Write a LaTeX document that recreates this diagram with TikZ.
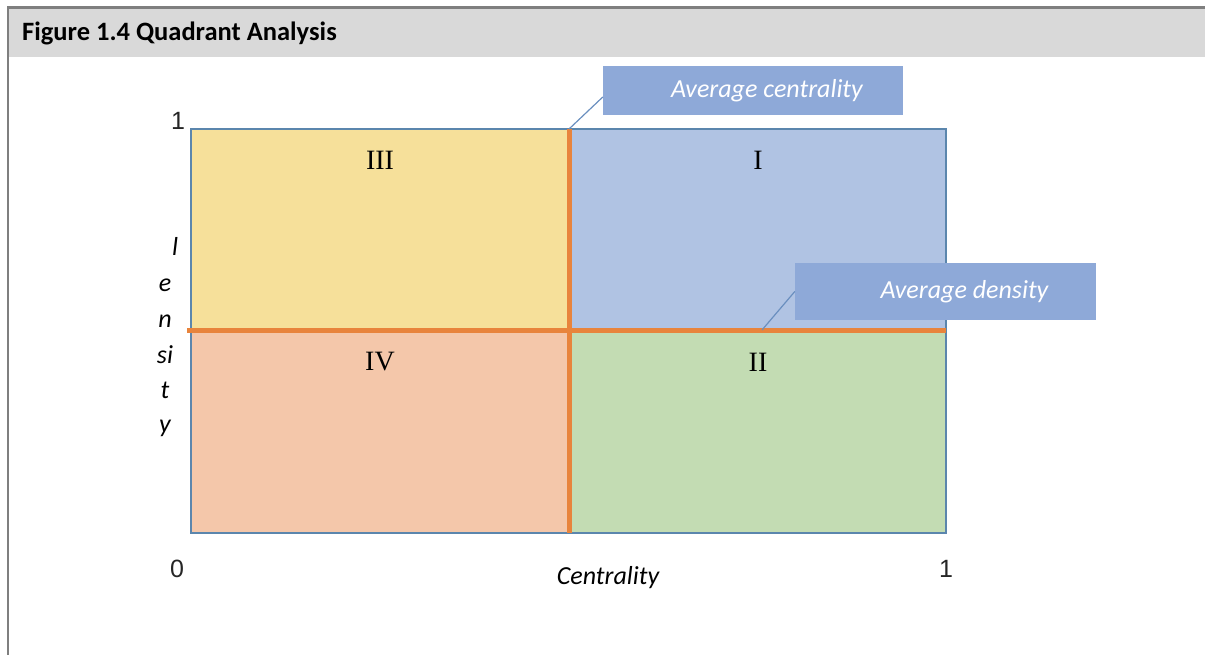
\documentclass[tikz,border=0pt]{standalone}
\usepackage{fontspec}
\setmainfont{Carlito}
\newfontfamily\romanfont{Liberation Serif}
\newfontfamily\digitfont{Liberation Sans}
\usetikzlibrary{calc}
\definecolor{headgray}{HTML}{D9D9D9}
\definecolor{framegray}{HTML}{7F7F7F}
\definecolor{qyellow}{HTML}{F6E09A}
\definecolor{qblue}{HTML}{B0C3E3}
\definecolor{qsalmon}{HTML}{F4C7AA}
\definecolor{qgreen}{HTML}{C3DCB3}
\definecolor{plotedge}{HTML}{5B86AD}
\definecolor{divorange}{HTML}{E8843C}
\definecolor{callfill}{HTML}{8EA9D8}
\definecolor{leader}{HTML}{6A8FBF}
\tikzset{
  quadlabel/.style={font=\romanfont\fontsize{28}{32}\selectfont, inner sep=0pt},
  calloutbox/.style={fill=callfill, draw=none, inner sep=0pt},
  callouttext/.style={font=\itshape\fontsize{26}{30}\selectfont, text=white, inner sep=0pt},
  axisletter/.style={font=\itshape\fontsize{26}{30}\selectfont, anchor=base, inner sep=0pt},
  axisnum/.style={font=\digitfont\fontsize{25}{29}\selectfont, text=black!85, inner sep=0pt},
  divider/.style={draw=divorange, line width=5pt},
  leaderline/.style={draw=leader, line width=1.2pt}
}
\begin{document}
\begin{tikzpicture}[x=1pt,y=-1pt]
\useasboundingbox (0,0) rectangle (1205,655);
% header and frame
\fill[headgray] (9,9) rectangle (1205,57);
\draw[framegray, line width=2.5pt] (8,655) -- (8,7.5) -- (1205,7.5);
\node[anchor=base west, font=\bfseries\fontsize{26.5}{30}\selectfont, inner sep=0pt] (title) at (22,41) {Figure 1.4 Quadrant Analysis};
% quadrants
\fill[qyellow] (191,129) rectangle (569,330);
\fill[qblue] (569,129) rectangle (946,330);
\fill[qsalmon] (191,330) rectangle (569,533);
\fill[qgreen] (569,330) rectangle (946,533);
\draw[plotedge, line width=2pt] (191,129) rectangle (946,533);
\coordinate (hl) at (187,330);
\coordinate (hr) at (946,330);
\coordinate (vt) at (569,129);
\coordinate (vb) at (569,533);
\draw[divider] (hl) -- (hr);
\draw[divider] (vt) -- (vb);
% quadrant labels
\node[quadlabel] (q3) at (380,160) {III};
\node[quadlabel] (q1) at (758,160) {I};
\node[quadlabel] (q4) at (380,362) {IV};
\node[quadlabel] (q2) at (758,362) {II};
% axis numbers
\node[axisnum] (ytop) at (178,121) {1};
\node[axisnum] (xzero) at (177,569) {0};
\node[axisnum] (xone) at (946,569) {1};
\node[font=\itshape\fontsize{26}{30}\selectfont, inner sep=0pt] (xlab) at (608,578) {Centrality};
% y axis label
\node[axisletter] (y1) at (175,255) {l};
\node[axisletter] (y2) at (165,291) {e};
\node[axisletter] (y3) at (165,327) {n};
\node[axisletter] (y4) at (165,363) {si};
\node[axisletter] (y5) at (165,398) {t};
\node[axisletter] (y6) at (165,432) {y};
% callouts
\node[calloutbox, minimum width=300pt, minimum height=49pt] (acbox) at (753,90.5) {};
\node[callouttext] (actext) at (767,91) {Average centrality};
\draw[leaderline] ($(acbox.west)+(0,6.5)$) -- (vt);
\node[calloutbox, minimum width=301pt, minimum height=57pt] (adbox) at (945.5,291.5) {};
\node[callouttext] (adtext) at (964.5,292) {Average density};
\coordinate (dt) at (762,330);
\draw[leaderline] (adbox.west) -- (dt);
\end{tikzpicture}
\end{document}
